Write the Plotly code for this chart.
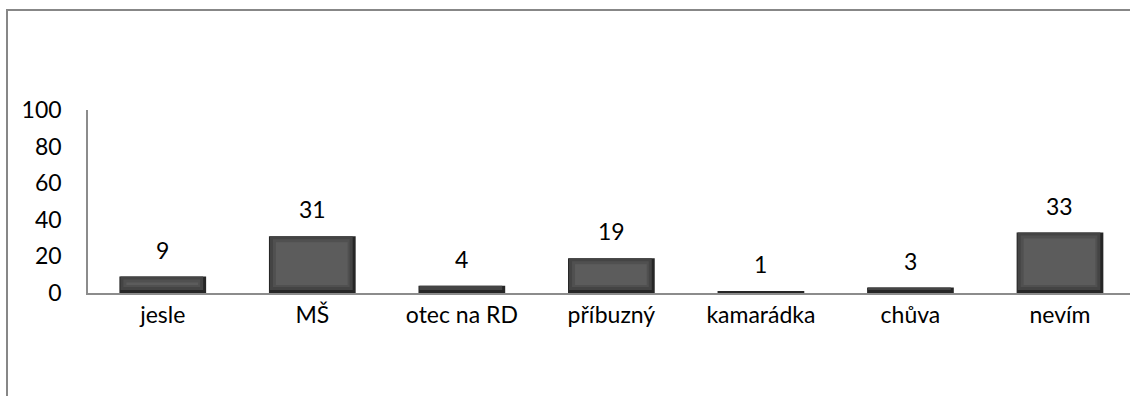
import plotly.graph_objects as go

# Survey answers and counts
categories = ["jesle", "MŠ", "otec na RD", "příbuzný", "kamarádka", "chůva", "nevím"]
counts = [9, 31, 4, 19, 1, 3, 33]
y_ticks = [0, 20, 40, 60, 80, 100]

FONT = "Lato"
FS = 23
BAR_W = 0.58
PX_X = 1 / 149.5    # one pixel in category units
PX_Y = 100 / 183    # one pixel in value units

fig = go.Figure()


def bevel_layer(left_px, right_px, bottom_px, top_px, color):
    """Bar layer inset from the full bar by the given pixel amounts."""
    xs, ys, bases = [], [], []
    for c, v in zip(categories, counts):
        h = v - (bottom_px + top_px) * PX_Y
        if h > 0:
            xs.append(c)
            ys.append(h)
            bases.append(bottom_px * PX_Y)
    w = BAR_W - (left_px + right_px) * PX_X
    fig.add_trace(go.Bar(
        x=xs, y=ys, base=bases, width=w,
        offset=-BAR_W / 2 + left_px * PX_X,
        marker=dict(color=color, line=dict(width=0)),
        hoverinfo="skip", showlegend=False,
    ))


# full bar (darkest edge), then lighter faces stacked on top
bevel_layer(0, 0, 0, 0, "#262626")
bevel_layer(1, 3, 3, 0, "#444444")
bevel_layer(4, 6, 6, 3, "#505050")
bevel_layer(7, 8, 8, 6, "#5c5c5c")

# value labels above bars
for c, v in zip(categories, counts):
    fig.add_annotation(
        x=c, y=v, text=str(v), showarrow=False,
        yanchor="bottom", yshift=11,
        font=dict(family=FONT, size=FS, color="#000000"),
    )

# outer chart frame
fig.add_shape(
    type="rect", xref="paper", yref="paper",
    x0=(7 - 88) / 1042, x1=1.2, y0=-1.0, y1=(293 - 10) / 183,
    line=dict(color="#878787", width=2), fillcolor="rgba(0,0,0,0)",
    layer="below",
)

fig.update_layout(
    width=1130, height=396,
    margin=dict(l=88, r=0, t=110, b=103),
    paper_bgcolor="white", plot_bgcolor="white",
    barmode="overlay",
    font=dict(family=FONT, size=FS, color="#000000"),
    xaxis=dict(
        type="category",
        range=[-0.5, 6.5 - 4.75 / 149.5],
        showline=True, linecolor="#8c8c8c", linewidth=1.5,
        showgrid=False, ticks="", ticklabelstandoff=1,
        tickfont=dict(family=FONT, size=FS, color="#000000"),
        fixedrange=True,
    ),
    yaxis=dict(
        range=[0, 100], tickvals=y_ticks,
        showline=True, linecolor="#8c8c8c", linewidth=1.5,
        showgrid=False, zeroline=False, ticks="",
        ticklabelstandoff=20,
        tickfont=dict(family=FONT, size=FS, color="#000000"),
        fixedrange=True,
    ),
)

fig.write_html("out.html")
